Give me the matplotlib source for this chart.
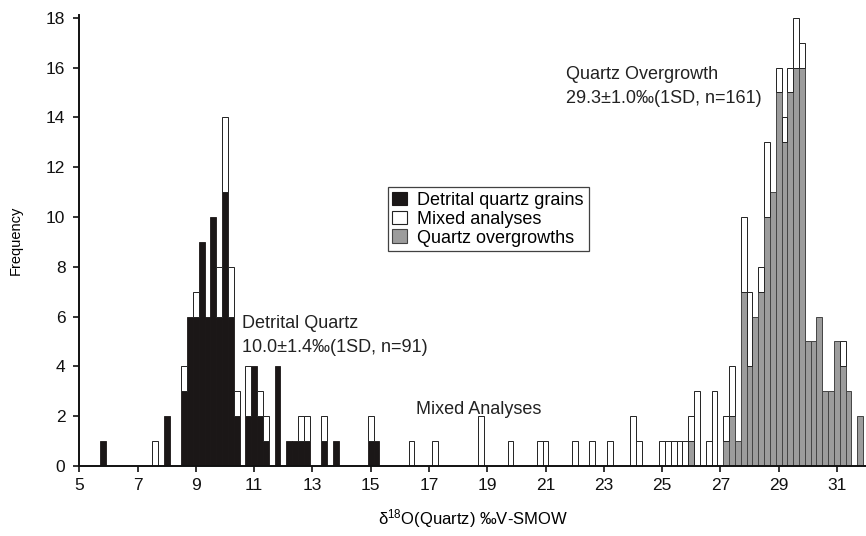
import numpy as np
import matplotlib
matplotlib.use("Agg")
import matplotlib.pyplot as plt
from matplotlib.patches import Patch

plt.rcParams['font.family'] = ['Liberation Sans', 'DejaVu Sans']
plt.rcParams['mathtext.default'] = 'regular'

# Histogram bins are 0.2 permil wide, centred on even tenths
BIN_WIDTH = 0.2

detrital_centers = [5.8, 8.0, 8.6, 8.8, 9.0, 9.2, 9.4, 9.6, 9.8, 10.0, 10.2, 10.4,
                    10.8, 11.0, 11.2, 11.4, 11.8, 12.2, 12.4, 12.6, 12.8, 13.4,
                    13.8, 15.0, 15.2]
detrital_counts = [1, 2, 3, 6, 6, 9, 6, 10, 6, 11, 6, 2,
                   2, 4, 2, 1, 4, 1, 1, 1, 1, 1,
                   1, 1, 1]

mixed_centers = [7.6, 8.6, 9.0, 9.8, 10.0, 10.2, 10.4, 10.8, 11.2, 11.4, 12.6, 12.8,
                 13.4, 15.0, 16.4, 17.2, 18.8, 19.8, 20.8, 21.0, 22.0, 22.6, 23.2,
                 24.0, 24.2, 25.0, 25.2, 25.4, 25.6, 25.8, 26.0, 26.2, 26.6, 26.8,
                 27.2, 27.4, 27.8, 28.0, 28.4, 28.6, 29.0, 29.2, 29.4, 29.6, 29.8,
                 31.2]
mixed_counts = [1, 1, 1, 2, 3, 2, 1, 2, 1, 1, 1, 1,
                1, 1, 1, 1, 2, 1, 1, 1, 1, 1, 1,
                2, 1, 1, 1, 1, 1, 1, 1, 3, 1, 3,
                1, 2, 3, 3, 1, 3, 1, 1, 1, 2, 1,
                1]

overgrowth_centers = [26.0, 27.2, 27.4, 27.6, 27.8, 28.0, 28.2, 28.4, 28.6, 28.8,
                      29.0, 29.2, 29.4, 29.6, 29.8, 30.0, 30.2, 30.4, 30.6, 30.8,
                      31.0, 31.2, 31.4, 31.8]
overgrowth_counts = [1, 1, 2, 1, 7, 4, 6, 7, 10, 11,
                     15, 13, 15, 16, 16, 5, 5, 6, 3, 3,
                     5, 4, 3, 2]

x_ticks = [5, 7, 9, 11, 13, 15, 17, 19, 21, 23, 25, 27, 29, 31]
y_ticks = [0, 2, 4, 6, 8, 10, 12, 14, 16, 18]

legend_labels = ["Detrital quartz grains", "Mixed analyses", "Quartz overgrowths"]

BLACK = "#1b1717"
GREY = "#9c9c9c"
EDGE = "#222222"


def to_grid(grid, centers, counts):
    """Place per-bin counts onto the common bin grid."""
    out = np.zeros(len(grid))
    keys = {round(c, 1): i for i, c in enumerate(grid)}
    for c, n in zip(centers, counts):
        out[keys[round(c, 1)]] += n
    return out


grid = np.round(np.arange(5.0, 32.0, BIN_WIDTH), 1)
det = to_grid(grid, detrital_centers, detrital_counts)
mix = to_grid(grid, mixed_centers, mixed_counts)
ovg = to_grid(grid, overgrowth_centers, overgrowth_counts)

fig = plt.figure(figsize=(8.66, 5.36), dpi=100)
ax = fig.add_axes([0.0916, 0.1306, 0.9084, 0.8409])

m = det > 0
ax.bar(grid[m], det[m], width=BIN_WIDTH, color=BLACK, edgecolor=BLACK,
       linewidth=0.6, zorder=2)
m = ovg > 0
ax.bar(grid[m], ovg[m], width=BIN_WIDTH, color=GREY, edgecolor="#444444",
       linewidth=0.7, zorder=2)
m = mix > 0
ax.bar(grid[m], mix[m], width=BIN_WIDTH, bottom=(det + ovg)[m], color="white",
       edgecolor=EDGE, linewidth=0.7, zorder=2)

ax.set_xlim(5, 32)
ax.set_ylim(0, 18.1)
ax.set_xticks(x_ticks)
ax.set_yticks(y_ticks)
ax.tick_params(axis="both", direction="out", length=4, width=1.2,
               labelsize=12.5, colors="#111111")
ax.tick_params(axis="x", pad=5)
ax.tick_params(axis="y", pad=6)
for side in ("top", "right"):
    ax.spines[side].set_visible(False)
for side in ("left", "bottom"):
    ax.spines[side].set_linewidth(1.4)
    ax.spines[side].set_color("#111111")

ax.set_ylabel("Frequency", fontsize=10.5, labelpad=17)
ax.set_xlabel("δ$^{18}$O(Quartz) ‰V-SMOW", fontsize=12, labelpad=10)

txt = dict(fontsize=13, color="#222222", ha="left", va="baseline")
ax.text(21.7, 15.54, "Quartz Overgrowth", **txt)
ax.text(21.7, 14.58, "29.3±1.0‰(1SD, n=161)", **txt)
ax.text(10.6, 5.54, "Detrital Quartz", **txt)
ax.text(10.6, 4.58, "10.0±1.4‰(1SD, n=91)", **txt)
ax.text(16.55, 2.09, "Mixed Analyses", **txt)

handles = [Patch(facecolor=BLACK, edgecolor=BLACK, linewidth=0.8),
           Patch(facecolor="white", edgecolor=EDGE, linewidth=0.8),
           Patch(facecolor=GREY, edgecolor="#444444", linewidth=0.8)]
leg = ax.legend(handles, legend_labels, loc="upper left",
                bbox_to_anchor=(0.392, 0.619), borderaxespad=0, fontsize=13,
                frameon=True, fancybox=False, handlelength=0.8, handleheight=0.8,
                handletextpad=0.6, labelspacing=0.1, borderpad=0.25)
leg.get_frame().set_edgecolor("#111111")
leg.get_frame().set_linewidth(0.9)

fig.savefig("out.png", dpi=100)
